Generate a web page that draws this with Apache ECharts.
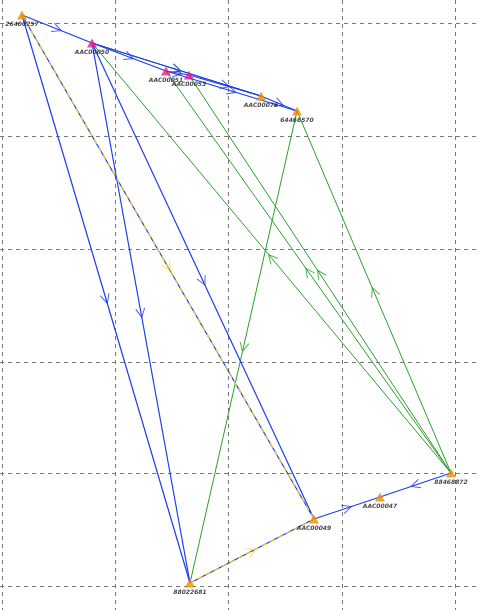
<!DOCTYPE html>
<html><head><meta charset="utf-8">
<script src="https://cdn.jsdelivr.net/npm/echarts@6/dist/echarts.min.js"></script>
<style>html,body{margin:0;padding:0;background:#fff}#c{width:480px;height:610px}</style>
</head><body><div id="c"></div>
<script>
// node names and positions (x, y measured down from top)
var nodeNames = ['26400257','AAC00050','AAC00051','AAC00053','AAC00076','64466570','88468872','AAC00047','AAC00049','88022681'];
var nodeX = [22, 92, 166, 189, 261, 297, 451, 380, 314, 190];
var nodeY = [15, 43, 71, 75, 96, 111, 473, 497, 519, 583];
var nodeColor = ['#f08c00','#ee1a8c','#ee1a8c','#ee1a8c','#f08c00','#f08c00','#f08c00','#f08c00','#f08c00','#f08c00'];
// background grid positions
var gridX = [2, 115, 228, 342, 455];
var gridY = [23, 136, 249, 362, 473, 586];
// links: [from, to]
var blueLinks = [[0,1],[0,9],[1,9],[1,8],[1,2],[2,3],[3,4],[4,5],[1,4],[2,5],[8,7],[6,7]];
var dashLinks = [[0,8],[9,8]];
var greenLinks = [[6,1],[6,2],[6,3],[6,5],[5,9],[1,4]];

var chart = echarts.init(document.getElementById('c'));
function pt(i){ return [nodeX[i], nodeY[i]]; }
function lineData(list){ return list.map(function(l){ return {coords:[pt(l[0]), pt(l[1])]}; }); }
function arrowData(list){
  return list.map(function(l){
    var a = pt(l[0]), b = pt(l[1]);
    var ang = Math.atan2(-(b[1]-a[1]), b[0]-a[0]) * 180 / Math.PI;
    return {value:[(a[0]+b[0])/2, (a[1]+b[1])/2], symbolRotate: ang};
  });
}
var chevron = 'path://M0,0 L10,5 L0,10';
function arrows(list, color){
  return {type:'scatter', data: arrowData(list), symbol: chevron, symbolSize:[9,9], silent:true,
    itemStyle:{color:'rgba(0,0,0,0)', borderColor: color, borderWidth: 1}, z: 4};
}
function lines(list, style, z){
  return {type:'lines', coordinateSystem:'cartesian2d', data:lineData(list), lineStyle:style, z:z};
}
var nodes = nodeNames.map(function(n,i){
  return {name:n, value:[nodeX[i], nodeY[i]], itemStyle:{color:nodeColor[i]}};
});
var gridMarks = gridX.map(function(x){ return {xAxis:x}; }).concat(gridY.map(function(y){ return {yAxis:y}; }));
var hidden = {axisLabel:{show:false},axisLine:{show:false},axisTick:{show:false},splitLine:{show:false}};
chart.setOption({
  animation:false,
  grid:{left:0,right:0,top:0,bottom:0},
  xAxis:Object.assign({type:'value',min:0,max:480}, hidden),
  yAxis:Object.assign({type:'value',inverse:true,min:0,max:610}, hidden),
  series:[
    lines(greenLinks, {color:'#2aa02a',width:1,opacity:1}, 2),
    lines(blueLinks.concat(dashLinks), {color:'#1f3cf0',width:1.2,opacity:1}, 3),
    lines(dashLinks, {color:'#ffd21a',width:1.2,type:[5,4],opacity:1}, 3),
    arrows(greenLinks,'#2aa02a'),
    arrows(blueLinks,'#1f3cf0'),
    arrows(dashLinks,'#ffd21a'),
    {type:'scatter',data:nodes,symbol:'triangle',symbolSize:[10,9],z:5,
      markLine:{silent:true,symbol:'none',label:{show:false},z:1,
        lineStyle:{color:'#777',type:[4,4],width:1},data:gridMarks},
      label:{show:true,position:'bottom',distance:2,formatter:'{b}',fontSize:6,fontStyle:'italic',fontWeight:'bold',color:'#111',fontFamily:'DejaVu Sans'}}
  ]
});
</script></body></html>
